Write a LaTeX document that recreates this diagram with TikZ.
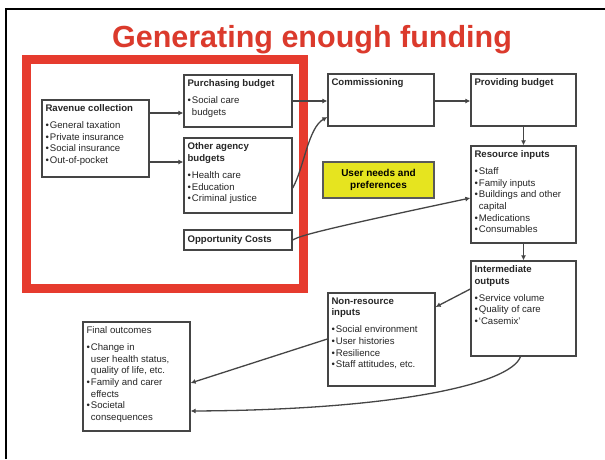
\documentclass[tikz,border=0pt]{standalone}
\usepackage{fontspec}
\setmainfont{Liberation Sans}
\usetikzlibrary{arrows.meta,calc}
\definecolor{boxred}{HTML}{E63B2E}
\definecolor{titlered}{HTML}{DB3A2C}
\definecolor{uyellow}{HTML}{E6E41F}
\definecolor{lgray}{HTML}{454545}
\tikzset{
  box/.style={draw=lgray, line width=1.3pt, fill=white, minimum width=#1, inner sep=0pt},
  boxtext/.style={anchor=north west, inner sep=0pt, align=left, font=\fontsize{9.6}{11.6}\selectfont, text=black!85},
  conn/.style={draw=lgray, line width=1.3pt, -{Latex[length=5pt,width=5pt]}},
}
\newcommand{\bt}[1]{\textbf{#1}}
\newcommand{\bul}{•\hspace{1pt}}
\newcommand{\ind}{\phantom{•}\hspace{1pt}}
\begin{document}
\begin{tikzpicture}[x=1pt,y=-1pt]
\useasboundingbox (0,0) rectangle (605,459);
\fill[white] (0,0) rectangle (605,459);
% partial frame
\draw[black, line width=2pt] (6,459) -- (6,9) -- (605,9);
% title
\node[text=titlered, font=\fontsize{30.5}{34}\selectfont\bfseries] (title) at (312,39.5) {Generating enough funding};
% red box
\draw[boxred, line width=9pt] (26.5,59.5) rectangle (303.5,288.5);

% boxes
\node[box=107pt, minimum height=77pt] (rev) at (95.5,138.5) {};
\node[box=108pt, minimum height=52pt] (pur) at (238,101) {};
\node[box=108pt, minimum height=75pt] (oth) at (238,175.5) {};
\node[box=108pt, minimum height=20pt] (opp) at (238,240) {};
\node[box=106pt, minimum height=52pt] (com) at (381,100) {};
\node[box=105pt, minimum height=52pt] (prov) at (523.5,100) {};
\node[box=105pt, minimum height=97pt] (res) at (523.5,194.5) {};
\node[box=111pt, minimum height=36pt, fill=uyellow, draw=black!65, align=center, font=\fontsize{10}{12}\selectfont\bfseries] (user) at (378.5,180) {User needs and\\preferences};
\node[box=105pt, minimum height=95pt] (inter) at (523.5,308.5) {};
\node[box=107pt, minimum height=93pt] (non) at (381.5,339.5) {};
\node[box=107pt, minimum height=109pt] (fin) at (136.5,376.5) {};

% texts
\node[boxtext] (revT) at ($(rev.north west)+(4,5)$) {\bt{Ravenue collection}\\[5.5pt]\bul General taxation\\\bul Private insurance\\\bul Social insurance\\\bul Out-of-pocket};
\node[boxtext] (purT) at ($(pur.north west)+(4,5)$) {\bt{Purchasing budget}\\[5.5pt]\bul Social care\\\ind budgets};
\node[boxtext] (othT) at ($(oth.north west)+(4,5)$) {\bt{Other agency}\\\bt{budgets}\\[6pt]\bul Health care\\\bul Education\\\bul Criminal justice};
\node[boxtext, anchor=west] (oppT) at ($(opp.west)+(4,0)$) {\bt{Opportunity Costs}};
\node[boxtext] (comT) at ($(com.north west)+(4,5)$) {\bt{Commissioning}};
\node[boxtext] (provT) at ($(prov.north west)+(4,5)$) {\bt{Providing budget}};
\node[boxtext] (resT) at ($(res.north west)+(4,5)$) {\bt{Resource inputs}\\[5.5pt]\bul Staff\\\bul Family inputs\\\bul Buildings and other\\\ind capital\\\bul Medications\\\bul Consumables};
\node[boxtext] (interT) at ($(inter.north west)+(4,5)$) {\bt{Intermediate}\\\bt{outputs}\\[5.5pt]\bul Service volume\\\bul Quality of care\\\bul `Casemix'};
\node[boxtext] (nonT) at ($(non.north west)+(4,5)$) {\bt{Non-resource}\\\bt{inputs}\\[5.5pt]\bul Social environment\\\bul User histories\\\bul Resilience\\\bul Staff attitudes, etc.};
\node[boxtext] (finT) at ($(fin.north west)+(4,5)$) {Final outcomes\\[5.5pt]\bul Change in\\\ind user health status,\\\ind quality of life, etc.\\\bul Family and carer\\\ind effects\\\bul Societal\\\ind consequences};

% connectors
\draw[conn] (rev.east |- 0,113) -- (pur.west |- 0,113);
\draw[conn] (rev.east |- 0,162) -- (oth.west |- 0,162);
\draw[conn] (pur.east |- 0,101) -- (com.west |- 0,101);
\draw[conn] (oth.east |- 0,188) .. controls (304,168) and (308,128) .. (com.west |- 0,117);
\draw[conn] (com.east |- 0,101) -- (prov.west |- 0,101);
\draw[conn] (prov.south) -- (res.north);
\draw[conn] (opp.east) .. controls (300,236) and (310,232) .. (res.west |- 0,198);
\draw[conn] (res.south) -- (inter.north);
\draw[conn] (inter.west |- 0,289) -- (non.east |- 0,307);
\draw[conn] (non.west |- 0,339) -- (fin.east |- 0,383);
\draw[conn] ($(inter.south)+(-3,0)$) .. controls (510,385) and (390,410) .. (fin.east |- 0,411);
\end{tikzpicture}
\end{document}
